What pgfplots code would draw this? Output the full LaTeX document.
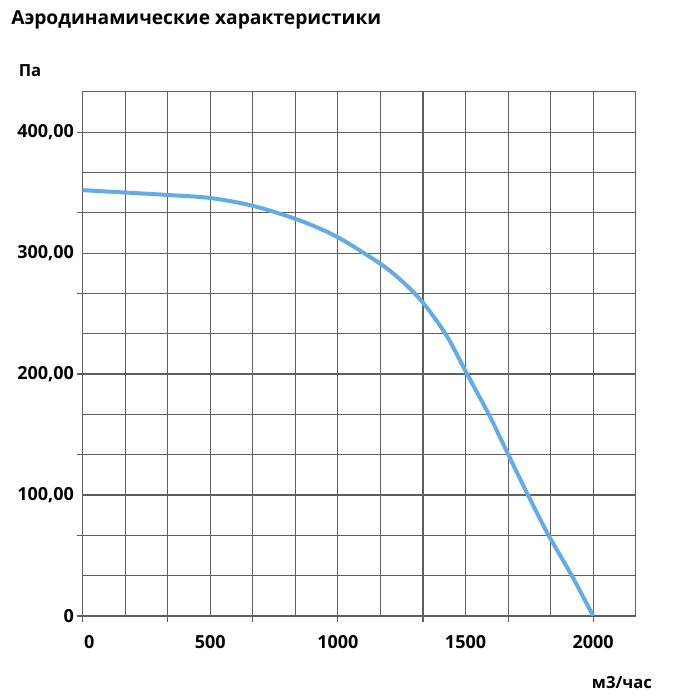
\documentclass[border=0pt]{standalone}
\usepackage{pgfplots}
\pgfplotsset{compat=1.18}
\usepackage{fontspec}
\setmainfont{Open Sans}
\definecolor{curve}{RGB}{100,172,232}
\definecolor{gridc}{RGB}{95,95,95}
\begin{document}
\begin{tikzpicture}[x=0.75pt,y=0.75pt]
\path[use as bounding box] (0,0) rectangle (675,700);
\node[anchor=west,font=\bfseries\fontsize{14.4}{17}\selectfont,inner sep=0pt] at (11,680) {Аэродинамические характеристики};
\node[font=\bfseries\fontsize{12.5}{14}\selectfont,inner sep=0pt] at (30,629) {Па};
\node[font=\bfseries\fontsize{12.5}{14}\selectfont,inner sep=0pt] at (622,17) {м3/час};
\begin{axis}[
  at={(62.025pt,63pt)}, anchor=south west,
  scale only axis, width=414.75pt, height=393.2pt,
  xmin=0, xmax=2166.667, ymin=0, ymax=433.333,
  xtick={0,333.333,666.667,1000,1333.333,1666.667,2000},
  ytick={0,66.667,133.333,200,266.667,333.333,400},
  minor xtick={166.667,500,833.333,1166.667,1500,1833.333},
  minor ytick={33.333,100,166.667,233.333,300,366.667},
  xticklabels={}, yticklabels={},
  grid=both,
  major grid style={gridc, line width=0.8pt},
  minor grid style={gridc, line width=0.8pt},
  axis line style={gridc, line width=0.8pt},
  tick style={gridc, line width=0.8pt},
  major tick length=4.5pt, minor tick length=0pt,
  tick align=outside,
  xtick pos=bottom, ytick pos=left,
  extra x ticks={0,500,1000,1500,2000},
  extra x tick labels={\hspace*{10pt}0,500,1000,1500,2000},
  extra y ticks={0,100,200,300,400},
  extra y tick labels={0,{100,00},{200,00},{300,00},{400,00}},
  extra x tick style={major tick length=0pt, grid=none, xticklabel style={yshift=-11pt}},
  extra y tick style={major tick length=0pt, grid=none, yticklabel style={xshift=-3pt}},
  ticklabel style={font=\bfseries\fontsize{13.5}{15}\selectfont},
]
\addplot[curve, line width=3pt, smooth, tension=0.5] coordinates {
(0,352) (167,350) (333,348) (500,345.5) (667,339) (850,327)
(1000,313) (1167,291) (1250,277) (1333,259) (1425,232) (1506,200)
(1594,165.5) (1666,134) (1740,102) (1822,68) (1920,32) (2000,0)
};
\end{axis}
\end{tikzpicture}
\end{document}
